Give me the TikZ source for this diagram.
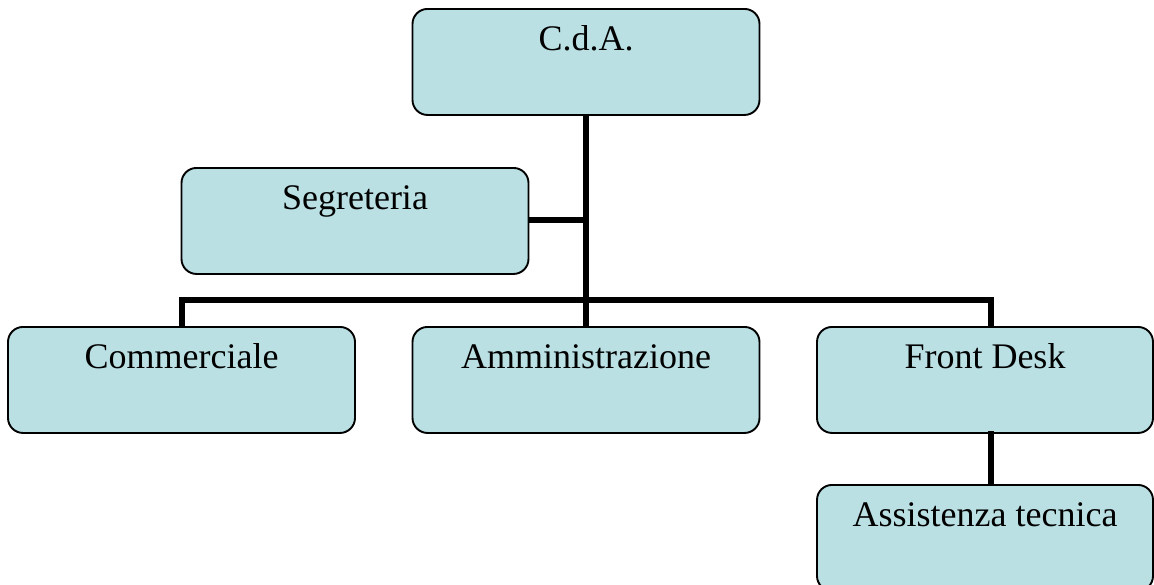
\documentclass[tikz,border=0pt]{standalone}
\usepackage{fontspec}
\setmainfont{Liberation Serif}
\definecolor{boxfill}{RGB}{186,224,228}
\begin{document}
\begin{tikzpicture}[x=1pt,y=-1pt,
  orgbox/.style={draw=black, line width=1.9pt, fill=boxfill, rounded corners=15pt,
    inner sep=0pt, minimum width=347pt, text height=42pt, text depth=64pt,
    anchor=north, font=\fontsize{36}{40}\selectfont},
  conn/.style={line width=5.5pt, line cap=butt}]
\useasboundingbox (0,0) rectangle (1154,584);
\node[orgbox] (cda) at (586,8) {C.d.A.};
\node[orgbox] (seg) at (355,167) {Segreteria};
\node[orgbox] (com) at (181.5,326) {Commerciale};
\node[orgbox] (amm) at (586,326) {Amministrazione};
\node[orgbox, minimum width=336pt] (fd) at (985,326) {Front Desk};
\node[orgbox, minimum width=336pt] (ass) at (985,484) {Assistenza tecnica};
\coordinate (hub) at (586,300);
\draw[conn] (cda.south) -- (amm.north);
\draw[conn] (seg.east |- 0,220) -- (586,220);
\draw[conn] (182,326) -- (182,300) -- (991,300) -- (991,326);
\draw[conn] (991,431) -- (991,484);
\end{tikzpicture}
\end{document}
